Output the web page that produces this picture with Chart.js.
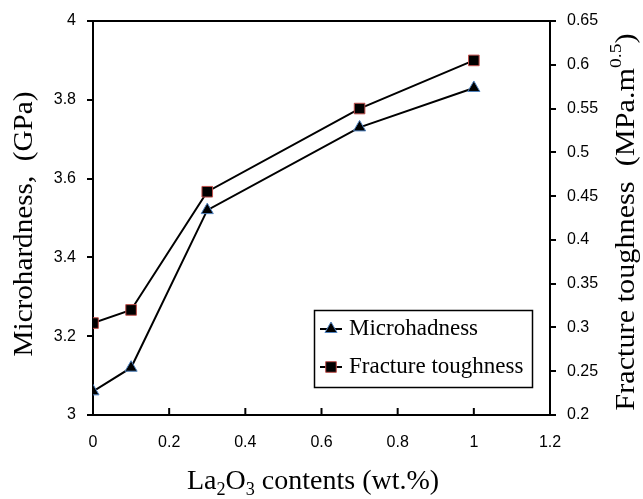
<!DOCTYPE html>
<html>
<head>
<meta charset="utf-8">
<script src="https://cdn.jsdelivr.net/npm/chart.js@4/dist/chart.umd.min.js"></script>
<style>
  html, body { margin: 0; padding: 0; background: #fff; }
</style>
</head>
<body>
<canvas id="myChart" width="643" height="499"></canvas>
<script>
// La2O3 contents (wt.%)
const contents = [0, 0.1, 0.3, 0.7, 1.0]
// left axis, GPa
const microhardness = [3.06, 3.12, 3.52, 3.73, 3.83]
// right axis, MPa.m^0.5
const toughness = [0.305, 0.32, 0.455, 0.55, 0.605]

const xTicks = [0, 0.2, 0.4, 0.6, 0.8, 1, 1.2]
const leftTicks = [3, 3.2, 3.4, 3.6, 3.8, 4]
const rightTicks = [0.2, 0.25, 0.3, 0.35, 0.4, 0.45, 0.5, 0.55, 0.6, 0.65]

const serif = '"Liberation Serif", "Times New Roman", serif'
const sans = '"Liberation Sans", Arial, sans-serif'

// draws text pieces with sub/superscripts, returns total width
function runs(ctx, parts, x, y, size, doDraw) {
    let w = 0
    parts.forEach(p => {
        const s = p.sub || p.sup ? size * 0.65 : size
        ctx.font = s + 'px ' + serif
        const dy = p.sub ? size * 0.28 : (p.sup ? -size * 0.38 : 0)
        if (doDraw) ctx.fillText(p.t, x + w, y + dy)
        w += ctx.measureText(p.t).width
    })
    return w
}

function drawRuns(ctx, parts, cx, cy, size) {
    ctx.textBaseline = 'middle'
    ctx.textAlign = 'left'
    const w = runs(ctx, parts, 0, 0, size, false)
    runs(ctx, parts, cx - w / 2, cy, size, true)
}

const framePlugin = {
    id: 'frame',
    afterDraw(chart) {
        const ctx = chart.ctx
        const area = chart.chartArea
        const xs = chart.scales.x
        ctx.save()
        ctx.strokeStyle = '#000'
        ctx.lineWidth = 2
        // top border
        ctx.beginPath()
        ctx.moveTo(area.left - 1, area.top)
        ctx.lineTo(area.right + 1, area.top)
        ctx.stroke()
        // inward x ticks
        xs.ticks.forEach(t => {
            const px = xs.getPixelForValue(t.value)
            ctx.beginPath()
            ctx.moveTo(px, area.bottom)
            ctx.lineTo(px, area.bottom - 7)
            ctx.stroke()
        })

        // axis titles
        ctx.fillStyle = '#000'
        drawRuns(ctx, [{t: 'La'}, {t: '2', sub: true}, {t: 'O'}, {t: '3', sub: true}, {t: ' contents (wt.%)'}],
            313, 482, 28)

        ctx.save()
        ctx.translate(25, 224)
        ctx.rotate(-Math.PI / 2)
        ctx.scale(1.08, 1)
        drawRuns(ctx, [{t: 'Microhardness,  (GPa)'}], 0, 0, 27)
        ctx.restore()

        ctx.save()
        ctx.translate(627, 222)
        ctx.rotate(-Math.PI / 2)
        ctx.scale(1.12, 1)
        drawRuns(ctx, [{t: 'Fracture toughness  (MPa.m'}, {t: '0.5', sup: true}, {t: ')'}], 0, 0, 27)
        ctx.restore()

        // legend
        const lx = 314, ly = 310, lw = 218, lh = 77
        ctx.lineWidth = 1.5
        ctx.strokeStyle = '#000'
        ctx.strokeRect(lx + 0.5, ly + 0.5, lw, lh)
        chart.data.datasets.forEach((ds, i) => {
            const y = ly + 19 + i * 38
            ctx.lineWidth = 2
            ctx.strokeStyle = '#000'
            ctx.beginPath()
            ctx.moveTo(lx + 6, y)
            ctx.lineTo(lx + 28, y)
            ctx.stroke()
            ctx.fillStyle = ds.pointBackgroundColor
            ctx.strokeStyle = ds.pointBorderColor
            ctx.lineWidth = ds.pointBorderWidth
            Chart.helpers.drawPoint(ctx, {pointStyle: ds.pointStyle, radius: ds.pointRadius, rotation: 0, borderWidth: 1}, lx + 17, y)
            ctx.fillStyle = '#000'
            ctx.font = '23px ' + serif
            ctx.textAlign = 'left'
            ctx.textBaseline = 'middle'
            ctx.fillText(ds.label, lx + 35, y)
        })
        ctx.restore()
    }
}

function drawChart() {
    const ctx = document.getElementById('myChart')

    const data = {
        datasets: [{
            label: 'Microhadness',
            data: contents.map((c, i) => ({x: c, y: microhardness[i]})),
            yAxisID: 'yleft',
            borderColor: '#000',
            borderWidth: 2,
            pointStyle: 'triangle',
            pointRadius: 7,
            pointBackgroundColor: '#000',
            pointBorderColor: '#4F81BD',
            pointBorderWidth: 1,
            showLine: true,
            tension: 0
        }, {
            label: 'Fracture toughness',
            data: contents.map((c, i) => ({x: c, y: toughness[i]})),
            yAxisID: 'yright',
            borderColor: '#000',
            borderWidth: 2,
            pointStyle: 'rect',
            pointRadius: 7.5,
            pointBackgroundColor: '#000',
            pointBorderColor: '#C0504D',
            pointBorderWidth: 1,
            showLine: true,
            tension: 0
        }]
    }

    const config = {
        type: 'scatter',
        data: data,
        options: {
            responsive: false,
            animation: false,
            devicePixelRatio: 1,
            layout: {padding: {top: 21, left: 0, right: 0, bottom: 0}},
            plugins: {legend: {display: false}, tooltip: {enabled: false}},
            scales: {
                x: {
                    type: 'linear', min: 0, max: 1.2,
                    afterBuildTicks: s => { s.ticks = xTicks.map(v => ({value: v})) },
                    afterFit: s => { s.height = 84 },
                    grid: {drawOnChartArea: false, drawTicks: false},
                    border: {display: true, color: '#000', width: 2},
                    ticks: {color: '#000', padding: 18, font: {family: sans, size: 16}, callback: v => String(v)}
                },
                yleft: {
                    type: 'linear', position: 'left', min: 3, max: 4,
                    afterBuildTicks: s => { s.ticks = leftTicks.map(v => ({value: v})) },
                    afterFit: s => { s.width = 93 },
                    grid: {drawOnChartArea: false, drawTicks: true, tickLength: 6, color: '#000', lineWidth: 2},
                    border: {display: true, color: '#000', width: 2},
                    ticks: {color: '#000', padding: 11, font: {family: sans, size: 16}, callback: v => String(v)}
                },
                yright: {
                    type: 'linear', position: 'right', min: 0.2, max: 0.65,
                    afterBuildTicks: s => { s.ticks = rightTicks.map(v => ({value: v})) },
                    afterFit: s => { s.width = 93 },
                    grid: {drawOnChartArea: false, drawTicks: true, tickLength: 6, color: '#000', lineWidth: 2},
                    border: {display: true, color: '#000', width: 2},
                    ticks: {color: '#000', padding: 11, font: {family: sans, size: 16}, callback: v => String(v)}
                }
            }
        },
        plugins: [framePlugin]
    }

    new Chart(ctx, config)
}

document.addEventListener('DOMContentLoaded', drawChart)
</script>
</body>
</html>
